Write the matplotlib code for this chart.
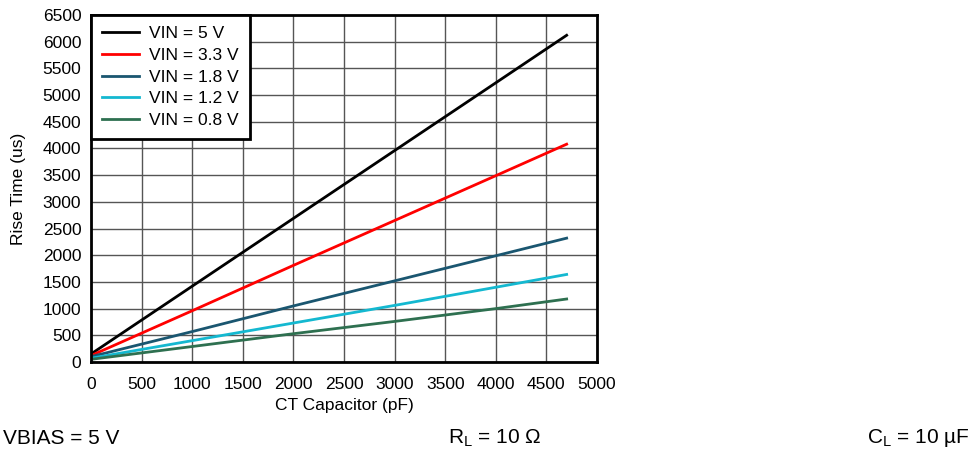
import numpy as np
import matplotlib.pyplot as plt

plt.rcParams['font.family'] = ['Liberation Sans', 'DejaVu Sans']

# Kapasitans değerleri (pF) ve yükselme süreleri (us)
ct_pf = [0, 1000, 2000, 3000, 4000, 4700]
rise_5v0 = [150, 1420, 2690, 3960, 5230, 6120]
rise_3v3 = [120, 960, 1810, 2650, 3490, 4080]
rise_1v8 = [100, 570, 1050, 1520, 1990, 2320]
rise_1v2 = [70, 400, 730, 1060, 1400, 1640]
rise_0v8 = [50, 290, 530, 760, 1000, 1180]

series = [
    ('VIN = 5 V', rise_5v0, '#000000'),
    ('VIN = 3.3 V', rise_3v3, '#ff0000'),
    ('VIN = 1.8 V', rise_1v8, '#1a5670'),
    ('VIN = 1.2 V', rise_1v2, '#14b8d0'),
    ('VIN = 0.8 V', rise_0v8, '#2e7050'),
]

fig = plt.figure(figsize=(9.78, 4.51), dpi=100)
ax = fig.add_axes([91 / 978, 1 - 362 / 451, 506 / 978, 347 / 451])

for label, vals, color in series:
    ax.plot(ct_pf, vals, color=color, lw=2, label=label)

ax.set_xlim(0, 5000)
ax.set_ylim(0, 6500)
ax.set_xticks(np.arange(0, 5001, 500))
ax.set_yticks(np.arange(0, 6501, 500))
ax.grid(True, color='#555555', lw=1)
ax.set_axisbelow(True)
for s in ax.spines.values():
    s.set_linewidth(2)
ax.tick_params(labelsize=12.5, length=0)
ax.tick_params(axis='x', pad=11)
ax.tick_params(axis='y', pad=7)
ax.set_xlabel('CT Capacitor (pF)', fontsize=12.5, labelpad=4)
ax.set_ylabel('Rise Time (us)', fontsize=12.5, labelpad=12)

leg = ax.legend(loc='upper left', fontsize=12.5, fancybox=False, framealpha=1,
                borderaxespad=0, handlelength=2.1, handletextpad=0.6,
                labelspacing=0.37, borderpad=0.65)
leg.get_frame().set_edgecolor('black')
leg.get_frame().set_linewidth(2)

fig.text(3 / 978, 1 - 438 / 451, 'VBIAS = 5 V', fontsize=15, va='center', ha='left')
fig.text(495 / 978, 1 - 438 / 451, r'R$_\mathregular{L}$ = 10 Ω', fontsize=15, va='center', ha='center')
fig.text(970 / 978, 1 - 438 / 451, r'C$_\mathregular{L}$ = 10 µF', fontsize=15, va='center', ha='right')

fig.savefig('out.png', dpi=100)
